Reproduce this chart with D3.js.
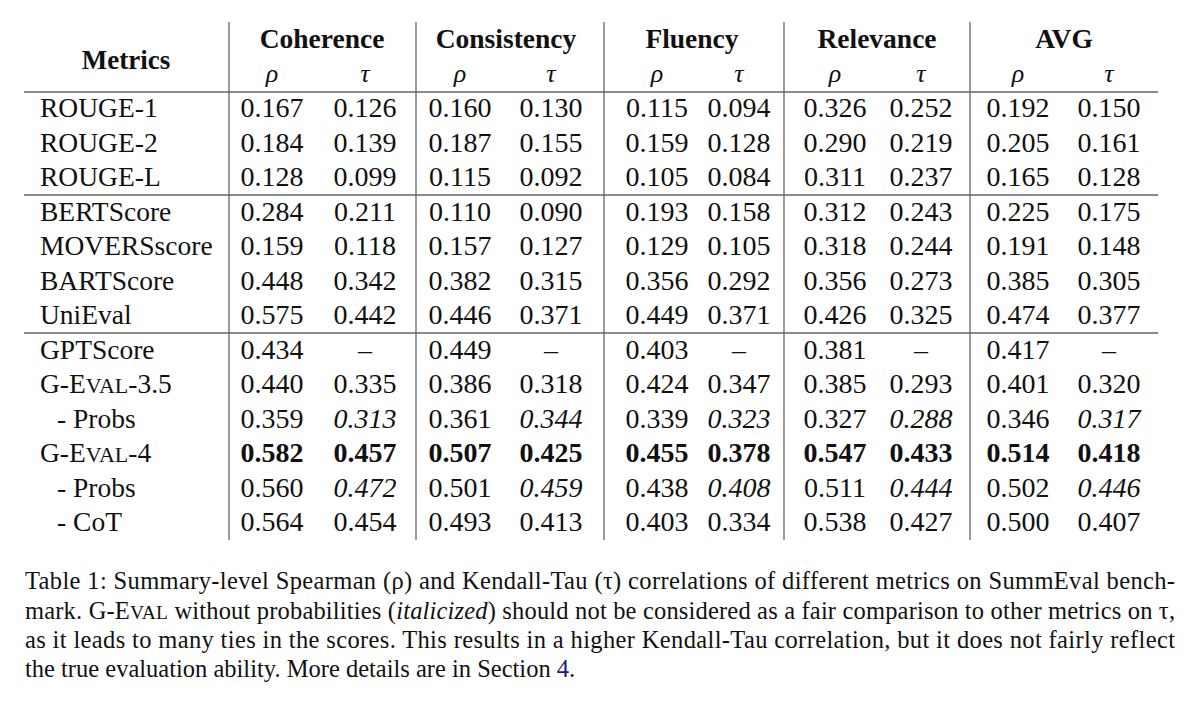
<!doctype html>
<html>
<head>
<meta charset="utf-8">
<script src="https://cdn.jsdelivr.net/npm/d3@7"></script>
<style>
body { margin: 0; background: #fff; }
text { font-family: "Liberation Serif", "DejaVu Serif", serif; fill: #111; }
</style>
</head>
<body>
<script>
// table content
var groups = ["Coherence", "Consistency", "Fluency", "Relevance", "AVG"];
var subs = ["\u03C1", "\u03C4"];
var metrics = ["ROUGE-1", "ROUGE-2", "ROUGE-L", "BERTScore", "MOVERSscore", "BARTScore", "UniEval",
  "GPTScore", "G-EVAL-3.5", "- Probs", "G-EVAL-4", "- Probs", "- CoT"];
var values = [
  ["0.167","0.126","0.160","0.130","0.115","0.094","0.326","0.252","0.192","0.150"],
  ["0.184","0.139","0.187","0.155","0.159","0.128","0.290","0.219","0.205","0.161"],
  ["0.128","0.099","0.115","0.092","0.105","0.084","0.311","0.237","0.165","0.128"],
  ["0.284","0.211","0.110","0.090","0.193","0.158","0.312","0.243","0.225","0.175"],
  ["0.159","0.118","0.157","0.127","0.129","0.105","0.318","0.244","0.191","0.148"],
  ["0.448","0.342","0.382","0.315","0.356","0.292","0.356","0.273","0.385","0.305"],
  ["0.575","0.442","0.446","0.371","0.449","0.371","0.426","0.325","0.474","0.377"],
  ["0.434","\u2013","0.449","\u2013","0.403","\u2013","0.381","\u2013","0.417","\u2013"],
  ["0.440","0.335","0.386","0.318","0.424","0.347","0.385","0.293","0.401","0.320"],
  ["0.359","0.313","0.361","0.344","0.339","0.323","0.327","0.288","0.346","0.317"],
  ["0.582","0.457","0.507","0.425","0.455","0.378","0.547","0.433","0.514","0.418"],
  ["0.560","0.472","0.501","0.459","0.438","0.408","0.511","0.444","0.502","0.446"],
  ["0.564","0.454","0.493","0.413","0.403","0.334","0.538","0.427","0.500","0.407"]
];
var boldRows = [10];
var italicTauRows = [9, 11];
var subRows = [9, 11, 12];
var caption = [
  "Table 1: Summary-level Spearman (\u03C1) and Kendall-Tau (\u03C4) correlations of different metrics on SummEval bench-",
  "mark. G-EVAL without probabilities (italicized) should not be considered as a fair comparison to other metrics on \u03C4,",
  "as it leads to many ties in the scores. This results in a higher Kendall-Tau correlation, but it does not fairly reflect",
  "the true evaluation ability. More details are in Section 4."
];

var svg = d3.select("body").append("svg").attr("width", 1200).attr("height", 706);

var colX = [272, 365, 460, 551, 657, 739, 835, 921, 1018, 1109];
var groupX = [322, 506, 692, 877, 1064];
var vlines = [229, 416, 604, 784, 970];
var y = d3.scaleLinear().domain([0, 1]).range([107, 141.5]);

// lines
svg.selectAll(".v").data(vlines).enter().append("line")
  .attr("x1", d => d).attr("x2", d => d).attr("y1", 22).attr("y2", 540)
  .attr("stroke", "#666").attr("stroke-width", 1.3);
svg.selectAll(".h").data([92, 195, 333]).enter().append("line")
  .attr("x1", 24).attr("x2", 1158).attr("y1", d => d).attr("y2", d => d)
  .attr("stroke", "#666").attr("stroke-width", 1.3);

// header
svg.append("text").attr("x", 126).attr("y", 69).attr("text-anchor", "middle")
  .style("font-size", "27px").style("font-weight", "bold").text("Metrics");
svg.selectAll(".g").data(groups).enter().append("text")
  .attr("x", (d, i) => groupX[i]).attr("y", 48).attr("text-anchor", "middle")
  .style("font-size", "27.5px").style("font-weight", "bold").text(d => d);
svg.selectAll(".s").data(colX).enter().append("text")
  .attr("x", d => d).attr("y", 82).attr("text-anchor", "middle")
  .style("font-size", "26px").style("font-style", "italic").text((d, i) => subs[i % 2]);

function evalName(sel, name) {
  var m = name.match(/^G-EVAL(.*)$/);
  if (!m) { sel.text(name); return; }
  sel.append("tspan").text("G-E");
  sel.append("tspan").style("font-size", "22px").text("VAL");
  sel.append("tspan").text(m[1]);
}

// body rows
metrics.forEach(function(name, r) {
  var yy = y(r) + 10;
  var t = svg.append("text").attr("x", subRows.includes(r) ? 57 : 40).attr("y", yy)
    .style("font-size", "27.5px");
  evalName(t, name);
  values[r].forEach(function(v, c) {
    svg.append("text").attr("x", colX[c]).attr("y", yy).attr("text-anchor", "middle")
      .style("font-size", "28px")
      .style("font-weight", boldRows.includes(r) ? "bold" : "normal")
      .style("font-style", italicTauRows.includes(r) && c % 2 === 1 ? "italic" : "normal")
      .text(v);
  });
});

// caption
var capY = [589, 619, 648, 677];
caption.forEach(function(line, i) {
  var t = svg.append("text").attr("x", 25).attr("y", capY[i]).style("font-size", "24.5px");
  if (i < 3) t.attr("textLength", 1150).attr("lengthAdjust", "spacing");
  if (i === 1) {
    t.append("tspan").text("mark. G-E");
    t.append("tspan").style("font-size", "19.5px").text("VAL");
    t.append("tspan").text(" without probabilities (");
    t.append("tspan").style("font-style", "italic").text("italicized");
    t.append("tspan").text(") should not be considered as a fair comparison to other metrics on \u03C4,");
  } else if (i === 3) {
    t.append("tspan").text("the true evaluation ability. More details are in Section ");
    t.append("tspan").style("fill", "#1a1a8c").text("4");
    t.append("tspan").text(".");
  } else {
    t.text(line);
  }
});
</script>
</body>
</html>
